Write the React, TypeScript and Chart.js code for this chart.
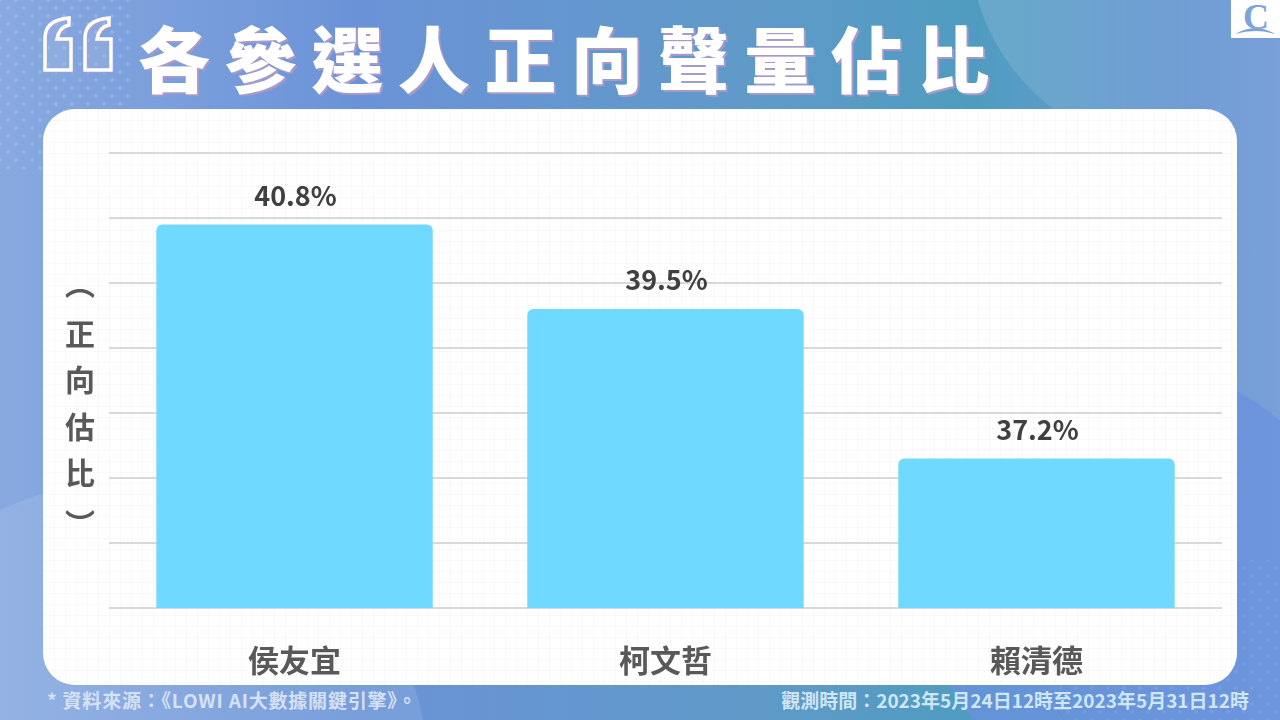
import { useEffect, useRef } from "react"
import { Chart, registerables } from "chart.js"

Chart.register(...registerables)

const candidates = ["侯友宜", "柯文哲", "賴清德"]
const positiveShare = [40.8, 39.5, 37.2]
const yTicks = [34.9, 35.9, 36.9, 37.9, 38.9, 39.9, 40.9, 41.9]

const chartTitle = "各參選人正向聲量佔比"
const yAxisTitle = ["︵", "正向估比", "︶"]
const sourceNote = "* 資料來源：《LOWI AI大數據關鍵引擎》。"
const periodNote = "觀測時間：2023年5月24日12時至2023年5月31日12時"

const cjk = '"Noto Sans CJK TC", "Noto Sans CJK SC", sans-serif'

// draws the percentage above each bar
const valueLabels = {
  id: "valueLabels",
  afterDatasetsDraw(chart: Chart) {
    const { ctx } = chart
    ctx.save()
    ctx.font = `700 27px ${cjk}`
    ctx.fillStyle = "#404040"
    ctx.textAlign = "center"
    ctx.textBaseline = "middle"
    chart.getDatasetMeta(0).data.forEach((bar, i) => {
      ctx.fillText(`${positiveShare[i]}%`, bar.x + 1, bar.y - 29)
    })
    ctx.restore()
  },
}

const dots = (alpha: number) => `radial-gradient(circle 2px, rgba(255,255,255,${alpha}) 99%, transparent 100%)`

export default function App() {
  const chartRef = useRef<HTMLCanvasElement>(null)

  useEffect(() => {
    document.body.style.margin = "0"
    if (!chartRef.current) return
    const chart = new Chart(chartRef.current, {
      type: "bar",
      data: {
        labels: candidates,
        datasets: [
          {
            data: positiveShare,
            backgroundColor: "#6fd9ff",
            barPercentage: 0.745,
            categoryPercentage: 1,
            borderRadius: { topLeft: 6, topRight: 6, bottomLeft: 0, bottomRight: 0 },
            borderSkipped: false,
          },
        ],
      },
      options: {
        animation: false,
        responsive: false,
        layout: { padding: { left: 66, right: 15, top: 44, bottom: 0 } },
        plugins: { legend: { display: false }, tooltip: { enabled: false } },
        scales: {
          x: {
            grid: { display: false },
            border: { display: false },
            afterFit: (scale) => {
              scale.height = 77
            },
            ticks: {
              color: "#595959",
              padding: 26,
              maxRotation: 0,
              font: { family: cjk, size: 31, weight: "bold" },
            },
          },
          y: {
            min: yTicks[0],
            max: yTicks[yTicks.length - 1],
            afterFit: (scale) => {
              scale.width = 0
            },
            afterBuildTicks: (scale) => {
              scale.ticks = yTicks.map((value) => ({ value }))
            },
            grid: { color: "#d9d9d9", lineWidth: 2, drawTicks: false },
            border: { display: false },
            ticks: { display: false },
          },
        },
      },
      plugins: [valueLabels],
    })
    return () => chart.destroy()
  }, [])

  return (
    <div
      style={{
        position: "relative",
        width: 1280,
        height: 720,
        overflow: "hidden",
        fontFamily: cjk,
        background: [
          "radial-gradient(circle 300px at 130px 780px, rgba(255,255,255,0.1) 99.5%, transparent 100%)",
          "radial-gradient(circle 215px at 1137px 581px, rgba(105,145,222,0.75) 99.5%, transparent 100%)",
          "linear-gradient(90deg, #88a9e0 0%, #6a93d7 28%, #5f9ac8 60%, #4f9cc0 76%, #689cd0 88%, #7a9fd9 100%)",
        ].join(", "),
      }}
    >
      {/* pale circle behind the top right, fading out to the right */}
      <div
        style={{
          position: "absolute",
          left: 969,
          top: -271,
          width: 422,
          height: 422,
          borderRadius: "50%",
          background: "linear-gradient(90deg, rgba(255,255,255,0.14), rgba(255,255,255,0) 55%)",
        }}
      />

      {/* dotted corners */}
      <div
        style={{
          position: "absolute",
          left: 0,
          top: 0,
          width: 130,
          height: 170,
          backgroundImage: `${dots(0.14)}, ${dots(0.14)}`,
          backgroundSize: "16px 16px",
          backgroundPosition: "0 0, 8px 8px",
        }}
      />
      <div
        style={{
          position: "absolute",
          left: 1060,
          top: 560,
          width: 220,
          height: 160,
          backgroundImage: `${dots(0.08)}, ${dots(0.08)}`,
          backgroundSize: "16px 16px",
          backgroundPosition: "0 0, 8px 8px",
        }}
      />

      {/* opening quote marks */}
      <svg style={{ position: "absolute", left: 42, top: 14 }} width={74} height={60} viewBox="0 0 74 60">
        {[0, 40].map((dx) => (
          <path
            key={dx}
            transform={`translate(${dx} 0)`}
            d="M3 56 V24 Q3 6 27 4 V11 Q17 13 15 25 H29 V56 Z"
            fill="rgba(255,255,255,0.08)"
            stroke="#ffffff"
            strokeWidth={3.5}
            style={{ filter: "drop-shadow(1.5px 1.5px 0 #a79ac8)" }}
          />
        ))}
      </svg>

      <div
        style={{
          position: "absolute",
          left: 138,
          top: 4,
          color: "#fff",
          fontSize: 72,
          lineHeight: "104px",
          fontWeight: 900,
          letterSpacing: 14.6,
          whiteSpace: "nowrap",
          textShadow: "2px 2px 0 #a79ac8",
        }}
      >
        {chartTitle}
      </div>

      {/* logo */}
      <div
        style={{
          position: "absolute",
          left: 1231,
          top: 0,
          width: 49,
          height: 38,
          background: "#fff",
        }}
      >
        <svg width={49} height={38} viewBox="0 0 49 38">
          <text
            x={25}
            y={29}
            textAnchor="middle"
            fontSize={36}
            fontWeight={700}
            fontFamily='"Liberation Serif", serif'
            fill="#7ea3da"
          >
            C
          </text>
          <path d="M4 34 Q25 22 44 34 Q25 28 4 34 Z" fill="#7ea3da" />
        </svg>
      </div>

      {/* card with its faint paper grid */}
      <div
        style={{
          position: "absolute",
          left: 43,
          top: 109,
          width: 1194,
          height: 576,
          borderRadius: 32,
          backgroundColor: "#fff",
          backgroundImage:
            "linear-gradient(rgba(120,120,120,0.04) 1px, transparent 1px), linear-gradient(90deg, rgba(120,120,120,0.04) 1px, transparent 1px)",
          backgroundSize: "11px 11px",
        }}
      >
        <canvas ref={chartRef} width={1194} height={576} style={{ display: "block" }} />
      </div>

      <div
        style={{
          position: "absolute",
          left: 65,
          top: 269,
          color: "#595959",
          fontSize: 30,
          fontWeight: 700,
          lineHeight: "30px",
          letterSpacing: 16.5,
          writingMode: "vertical-rl",
          textOrientation: "upright",
          whiteSpace: "nowrap",
        }}
      >
        <span style={{ display: "inline-block", marginBottom: 3 }}>{yAxisTitle[0]}</span>
        {yAxisTitle[1]}
        <span style={{ display: "inline-block", marginTop: 4 }}>{yAxisTitle[2]}</span>
      </div>

      <div
        style={{
          position: "absolute",
          left: 47,
          top: 687,
          color: "#d5e1f5",
          fontSize: 19,
          lineHeight: "26px",
          fontWeight: 700,
          letterSpacing: 0.8,
          whiteSpace: "nowrap",
        }}
      >
        {sourceNote}
      </div>
      <div
        style={{
          position: "absolute",
          right: 31,
          top: 687,
          color: "#cfe6f5",
          fontSize: 19,
          lineHeight: "26px",
          fontWeight: 700,
          whiteSpace: "nowrap",
        }}
      >
        {periodNote}
      </div>
    </div>
  )
}
